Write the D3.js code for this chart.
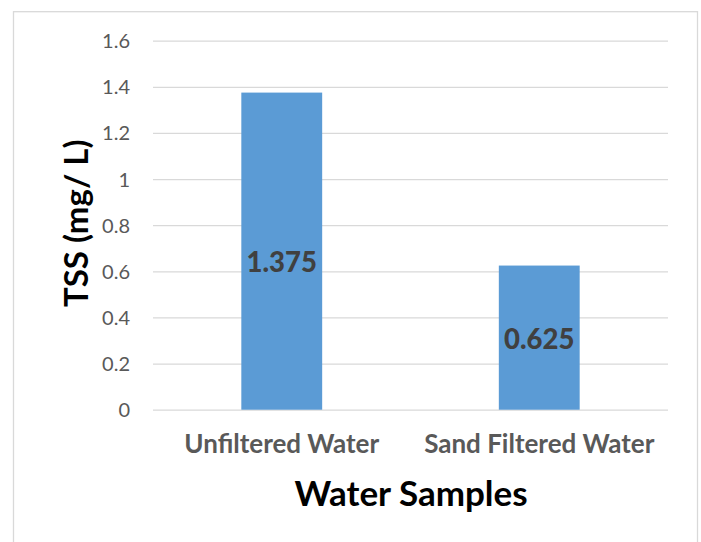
<!DOCTYPE html>
<html>
<head>
<meta charset="utf-8">
<script src="https://cdn.jsdelivr.net/npm/d3@7"></script>
<style>
  html, body { margin: 0; padding: 0; background: #fff; }
  svg { display: block; }
</style>
</head>
<body>
<svg id="chart" width="701" height="542"></svg>
<script>
// ---- data ----
const categories = ["Unfiltered Water", "Sand Filtered Water"];
const tssValues = [1.375, 0.625];
const valueLabels = ["1.375", "0.625"];
const yTicks = [0, 0.2, 0.4, 0.6, 0.8, 1, 1.2, 1.4, 1.6];
const yTickLabels = ["0", "0.2", "0.4", "0.6", "0.8", "1", "1.2", "1.4", "1.6"];
const yTitle = "TSS (mg/ L)";
const xTitle = "Water Samples";

// ---- layout ----
const W = 701, H = 542;
const plot = { left: 153, right: 668, top: 40.7, bottom: 409.7 };
const font = "Lato, 'Open Sans', sans-serif";
const labelOffsets = [11.5, 1.5];

const svg = d3.select("#chart");

// chart border
svg.append("rect")
  .attr("x", 13.5).attr("y", 11.7)
  .attr("width", 697.5 - 13.5).attr("height", H + 20)
  .attr("fill", "none").attr("stroke", "#d9d9d9").attr("stroke-width", 1.3);

const x = d3.scaleBand().domain(categories).range([plot.left, plot.right]).padding(0);
const y = d3.scaleLinear().domain([0, 1.6]).range([plot.bottom, plot.top]);
const barW = x.bandwidth() * 0.314;

// gridlines via axis
const yAxis = d3.axisLeft(y).tickValues(yTicks)
  .tickSize(-(plot.right - plot.left))
  .tickFormat((d, i) => yTickLabels[i]);
const gy = svg.append("g").attr("transform", `translate(${plot.left},0)`).call(yAxis);
gy.select(".domain").remove();
gy.selectAll(".tick line").attr("stroke", "#d9d9d9").attr("stroke-width", 1.3);
gy.selectAll(".tick text")
  .attr("x", -23).attr("dy", "0.35em")
  .attr("fill", "#595959")
  .style("font-family", font).style("font-size", "20px");

// bars
svg.append("g").selectAll("rect").data(categories).join("rect")
  .attr("x", (d) => x(d) + x.bandwidth() / 2 - barW / 2)
  .attr("y", (d, i) => y(tssValues[i]))
  .attr("width", barW)
  .attr("height", (d, i) => y(0) - y(tssValues[i]))
  .attr("fill", "#5b9bd5");

// value labels
svg.append("g").selectAll("text").data(categories).join("text")
  .attr("x", (d) => x(d) + x.bandwidth() / 2)
  .attr("y", (d, i) => (y(tssValues[i]) + y(0)) / 2 + labelOffsets[i])
  .attr("dy", "0.35em")
  .attr("text-anchor", "middle")
  .attr("fill", "#404040")
  .style("font-family", font).style("font-weight", "900").style("font-size", "27.5px")
  .text((d, i) => valueLabels[i]);

// x axis category labels
const xAxis = d3.axisBottom(x).tickSize(0).tickPadding(0);
const gx = svg.append("g").attr("transform", `translate(0,${plot.bottom})`).call(xAxis);
gx.select(".domain").remove();
gx.selectAll(".tick text")
  .attr("y", 43.6).attr("dy", 0)
  .attr("fill", "#595959")
  .style("font-family", font).style("font-weight", "bold").style("font-size", "26px");

// axis titles
svg.append("text")
  .attr("x", 411).attr("y", 506)
  .attr("text-anchor", "middle")
  .attr("fill", "#000")
  .style("font-family", font).style("font-weight", "bold").style("font-size", "35px")
  .text(xTitle);

svg.append("text")
  .attr("transform", "translate(76.5,223.3) rotate(-90)")
  .attr("text-anchor", "middle").attr("dy", "0.35em")
  .attr("fill", "#000")
  .style("font-family", font).style("font-weight", "bold").style("font-size", "33px")
  .text(yTitle);
</script>
</body>
</html>
